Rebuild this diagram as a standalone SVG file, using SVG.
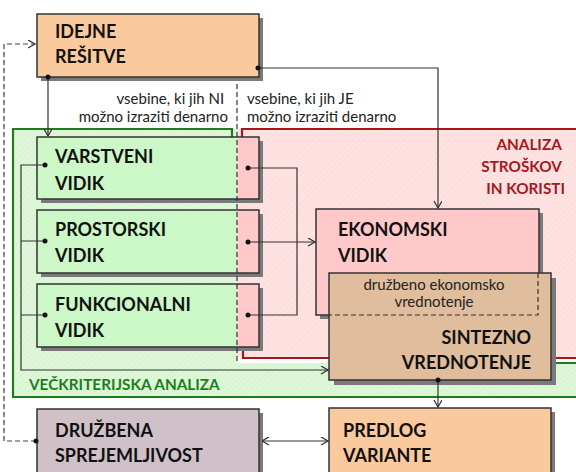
<svg xmlns="http://www.w3.org/2000/svg" width="576" height="472" viewBox="0 0 576 472">
  <style>
    .box { stroke: #333; stroke-width: 1.5; }
    .shadow { fill: #7a7a7a; }
    .title { font-family: Lato, "Liberation Sans", Arial, sans-serif; font-weight: bold; font-size: 18px; fill: #111; }
    .note { font-family: Lato, "Liberation Sans", Arial, sans-serif; font-size: 15px; fill: #222; }
    .zone { font-family: Lato, "Liberation Sans", Arial, sans-serif; font-weight: bold; font-size: 15.3px; }
    .wire { fill: none; stroke: #333; stroke-width: 1.2; }
    .dash { fill: none; stroke: #444; stroke-width: 1.2; stroke-dasharray: 5 3; }
    .dot { fill: #111; }
  </style>
  <defs>
    <pattern id="hatchGreen" width="4" height="4" patternUnits="userSpaceOnUse" patternTransform="rotate(45)">
      <rect width="4" height="4" fill="#def7d8"/>
      <line x1="0" y1="0" x2="0" y2="4" stroke="#cdeec6" stroke-width="1"/>
    </pattern>
    <pattern id="hatchRed" width="4" height="4" patternUnits="userSpaceOnUse" patternTransform="rotate(45)">
      <rect width="4" height="4" fill="#ffe3e3"/>
      <line x1="0" y1="0" x2="0" y2="4" stroke="#fcd2d2" stroke-width="1"/>
    </pattern>
    <marker id="arrow" markerWidth="10" markerHeight="10" refX="8" refY="4" orient="auto" markerUnits="userSpaceOnUse">
      <path d="M1,0 L8,4 L1,8" fill="none" stroke="#333" stroke-width="1.3"/>
    </marker>
    <marker id="arrowStart" markerWidth="10" markerHeight="10" refX="0" refY="4" orient="auto" markerUnits="userSpaceOnUse">
      <path d="M7,0 L0,4 L7,8" fill="none" stroke="#333" stroke-width="1.3"/>
    </marker>
  </defs>

  <!-- analysis zones -->
  <g id="zone-multicriteria">
    <path d="M13,129 H237 V363 H580 V397 H13 Z" fill="url(#hatchGreen)"/>
    <path d="M232,152 V129 H13 V397 H580" fill="none" stroke="#1d7d1d" stroke-width="2.2"/>
    <path d="M530,363 H580" fill="none" stroke="#1d7d1d" stroke-width="2.2"/>
    <text class="zone" x="29" y="390" fill="#1d7d1d">VEČKRITERIJSKA ANALIZA</text>
  </g>
  <g id="zone-cost-benefit">
    <path d="M237,129 H580 V357 H237 Z" fill="url(#hatchRed)"/>
    <path d="M242,152 V129 H580" fill="none" stroke="#a8161c" stroke-width="2.2"/>
    <path d="M243,333 V358 H580" fill="none" stroke="#a8161c" stroke-width="2.2"/>
    <text class="zone" fill="#a8161c" text-anchor="end">
      <tspan x="565" y="150">ANALIZA</tspan>
      <tspan x="565" y="172">STROŠKOV</tspan>
      <tspan x="565" y="194">IN KORISTI</tspan>
    </text>
  </g>

  <!-- monetary / non-monetary split -->
  <g id="split-labels">
    <text class="note" text-anchor="end">
      <tspan x="228" y="104">vsebine, ki jih NI</tspan>
      <tspan x="228" y="122">možno izraziti denarno</tspan>
    </text>
    <text class="note">
      <tspan x="247" y="104">vsebine, ki jih JE</tspan>
      <tspan x="247" y="122">možno izraziti denarno</tspan>
    </text>
  </g>

  <g id="idejne-resitve">
    <rect class="shadow" x="41" y="18" width="222" height="63"/>
    <rect class="box" x="37" y="14" width="222" height="63" fill="#fbc99e"/>
    <text class="title"><tspan x="55" y="38">IDEJNE</tspan><tspan x="55" y="63">REŠITVE</tspan></text>
  </g>

  <g id="varstveni-vidik">
    <rect class="shadow" x="41" y="141" width="222" height="62"/>
    <rect x="37" y="137" width="200" height="62" fill="#ccf7c6"/>
    <rect x="237" y="137" width="22" height="62" fill="#ffc9c9"/>
    <rect class="box" x="37" y="137" width="222" height="62" fill="none"/>
    <text class="title"><tspan x="55" y="163">VARSTVENI</tspan><tspan x="55" y="190">VIDIK</tspan></text>
  </g>

  <g id="prostorski-vidik">
    <rect class="shadow" x="41" y="214" width="222" height="63"/>
    <rect x="37" y="210" width="200" height="63" fill="#ccf7c6"/>
    <rect x="237" y="210" width="22" height="63" fill="#ffc9c9"/>
    <rect class="box" x="37" y="210" width="222" height="63" fill="none"/>
    <text class="title"><tspan x="55" y="236">PROSTORSKI</tspan><tspan x="55" y="262">VIDIK</tspan></text>
  </g>

  <g id="funkcionalni-vidik">
    <rect class="shadow" x="41" y="288" width="222" height="63"/>
    <rect x="37" y="284" width="200" height="63" fill="#ccf7c6"/>
    <rect x="237" y="284" width="22" height="63" fill="#ffc9c9"/>
    <rect class="box" x="37" y="284" width="222" height="63" fill="none"/>
    <text class="title"><tspan x="55" y="311">FUNKCIONALNI</tspan><tspan x="55" y="337">VIDIK</tspan></text>
  </g>

  <g id="ekonomski-vidik">
    <rect class="shadow" x="320" y="213" width="223" height="106"/>
    <rect class="box" x="316" y="209" width="223" height="106" fill="#ffc9c9"/>
    <text class="title"><tspan x="338" y="236">EKONOMSKI</tspan><tspan x="338" y="262">VIDIK</tspan></text>
  </g>

  <g id="sintezno-vrednotenje">
    <rect class="shadow" x="334" y="278" width="222" height="107"/>
    <rect class="box" x="329" y="273" width="222" height="107" fill="#dfbd9d"/>
    <path d="M538,273 V315 H329" fill="none" stroke="#333" stroke-width="1.2" stroke-dasharray="5 3"/>
    <text class="note" text-anchor="middle"><tspan x="434" y="290">družbeno ekonomsko</tspan><tspan x="434" y="307">vrednotenje</tspan></text>
    <text class="title" text-anchor="end"><tspan x="531" y="344">SINTEZNO</tspan><tspan x="531" y="369">VREDNOTENJE</tspan></text>
  </g>

  <g id="druzbena-sprejemljivost">
    <rect class="shadow" x="41" y="413" width="222" height="70"/>
    <rect class="box" x="37" y="409" width="222" height="70" fill="#d0c1c9"/>
    <text class="title"><tspan x="55" y="437">DRUŽBENA</tspan><tspan x="55" y="462">SPREJEMLJIVOST</tspan></text>
  </g>

  <g id="predlog-variante">
    <rect class="shadow" x="333" y="412" width="222" height="70"/>
    <rect class="box" x="329" y="408" width="222" height="70" fill="#fbc99e"/>
    <text class="title"><tspan x="343" y="437">PREDLOG</tspan><tspan x="343" y="462">VARIANTE</tspan></text>
  </g>

  <g id="connectors">
    <!-- boundary between monetary and non-monetary contents -->
    <line x1="237" y1="84" x2="237" y2="363" stroke="#333" stroke-width="1.2" stroke-dasharray="5 3"/>

    <!-- feedback loop from social acceptability back to the ideas -->
    <path class="dash" d="M36,441 H4 V44 H35" marker-end="url(#arrow)"/>
    <circle class="dot" cx="36" cy="441" r="2.5"/>

    <!-- ideas into the aspects and the economic view -->
    <path class="wire" d="M48,77 V136" marker-end="url(#arrow)"/>
    <circle class="dot" cx="48" cy="77" r="2.5"/>
    <path class="wire" d="M258,68 H438 V208" marker-end="url(#arrow)"/>
    <circle class="dot" cx="258" cy="68" r="2.5"/>

    <!-- non-monetary contents into synthesis -->
    <path class="wire" d="M45,165 H21 V370 H328" marker-end="url(#arrow)"/>
    <path class="wire" d="M21,241 H45 M21,315 H45"/>
    <circle class="dot" cx="45" cy="165" r="2.5"/>
    <circle class="dot" cx="45" cy="241" r="2.5"/>
    <circle class="dot" cx="45" cy="315" r="2.5"/>

    <!-- monetary contents into economic view -->
    <path class="wire" d="M248,168 H297 V315 H248"/>
    <path class="wire" d="M248,242 H315" marker-end="url(#arrow)"/>
    <circle class="dot" cx="248" cy="168" r="2.5"/>
    <circle class="dot" cx="248" cy="242" r="2.5"/>
    <circle class="dot" cx="248" cy="315" r="2.5"/>

    <!-- synthesis into the proposal -->
    <path class="wire" d="M438,380 V407" marker-end="url(#arrow)"/>
    <circle class="dot" cx="438" cy="380" r="2.5"/>

    <!-- social acceptability and proposal -->
    <path class="wire" d="M262,441 H328" marker-start="url(#arrowStart)" marker-end="url(#arrow)"/>
  </g>
</svg>
